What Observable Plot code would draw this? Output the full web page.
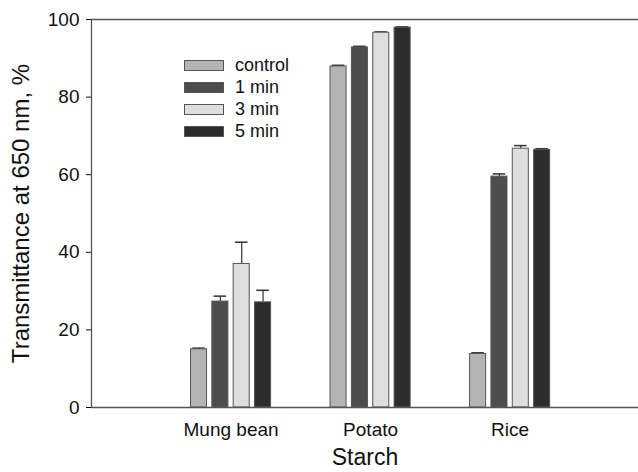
<!DOCTYPE html>
<html>
<head>
<meta charset="utf-8">
<script src="https://cdn.jsdelivr.net/npm/d3@7"></script>
<script src="https://cdn.jsdelivr.net/npm/@observablehq/plot@0.6"></script>
<style>
  html, body { margin: 0; padding: 0; background: #fff; }
  #wrap { position: relative; width: 638px; height: 472px; font-family: "Liberation Sans", Arial, sans-serif; }
  #legend { position: absolute; left: 184px; top: 54px; font-size: 18px; color: #111; }
  .row { display: flex; align-items: center; height: 22px; }
  .sw { width: 38px; height: 9px; border: 1px solid #555; margin-right: 11px; }
</style>
</head>
<body>
<div id="wrap"><div id="legend"></div></div>
<script>
const categories = ["Mung bean", "Potato", "Rice"];
const series = ["control", "1 min", "3 min", "5 min"];
const colors = ["#b4b4b4", "#4c4c4c", "#dedede", "#2c2c2c"];
// values[series][category]
const control = [15.0, 87.9, 13.8];
const min1    = [27.3, 92.8, 59.5];
const min3    = [37.0, 96.6, 66.7];
const min5    = [27.1, 97.9, 66.4];
const errControl = [0.3, 0.3, 0.3];
const errMin1    = [1.4, 0.3, 0.7];
const errMin3    = [5.6, 0.2, 0.8];
const errMin5    = [3.1, 0.2, 0.3];
const yTicks = [0, 20, 40, 60, 80, 100];

const vals = [control, min1, min3, min5];
const errs = [errControl, errMin1, errMin3, errMin5];
const step = 0.153, bw = 0.115;
const data = [];
series.forEach((s, k) => categories.forEach((c, i) => {
  const xc = (i + 1) + (k - 1.5) * step;
  data.push({series: s, cat: c, xc, x1: xc - bw / 2, x2: xc + bw / 2, v: vals[k][i], e: errs[k][i]});
}));

const chart = Plot.plot({
  width: 638,
  height: 472,
  marginLeft: 91,
  marginRight: 0,
  marginTop: 19,
  marginBottom: 65,
  style: {fontFamily: "'Liberation Sans', Arial, sans-serif", color: "#111", background: "transparent"},
  x: {domain: [0, 3.92]},
  y: {domain: [0, 100]},
  color: {domain: series, range: colors},
  marks: [
    Plot.ruleX(data, {x: "xc", y1: "v", y2: d => d.v + d.e, stroke: "#333", strokeWidth: 1.2}),
    Plot.ruleY(data, {y: d => d.v + d.e, x1: d => d.xc - 0.045, x2: d => d.xc + 0.045, stroke: "#333", strokeWidth: 1.5}),
    Plot.rect(data, {x1: "x1", x2: "x2", y1: 0, y2: "v", fill: "series", stroke: "#555", strokeWidth: 1}),
    Plot.ruleY([0, 100], {stroke: "#555", strokeWidth: 1.3}),
    Plot.ruleX([0], {stroke: "#555", strokeWidth: 1.3}),
    Plot.axisY({ticks: yTicks, tickSize: 5, tickPadding: 7, fontSize: 19, label: null}),
    Plot.axisY({ticks: [], fontSize: 24, label: "Transmittance at 650 nm, %", labelAnchor: "center", labelArrow: "none", labelOffset: 80}),
    Plot.axisX({ticks: [1, 2, 3], tickFormat: d => categories[d - 1], tickSize: 0, tickPadding: 15, fontSize: 19, label: null}),
    Plot.axisX({ticks: [], fontSize: 23, label: "Starch", labelAnchor: "center", labelArrow: "none", labelOffset: 57})
  ]
});
const wrap = document.getElementById("wrap");
wrap.insertBefore(chart, wrap.firstChild);

const legend = d3.select("#legend");
series.forEach((s, k) => {
  const row = legend.append("div").attr("class", "row");
  row.append("div").attr("class", "sw").style("background", colors[k]);
  row.append("span").text(s);
});
</script>
</body>
</html>
